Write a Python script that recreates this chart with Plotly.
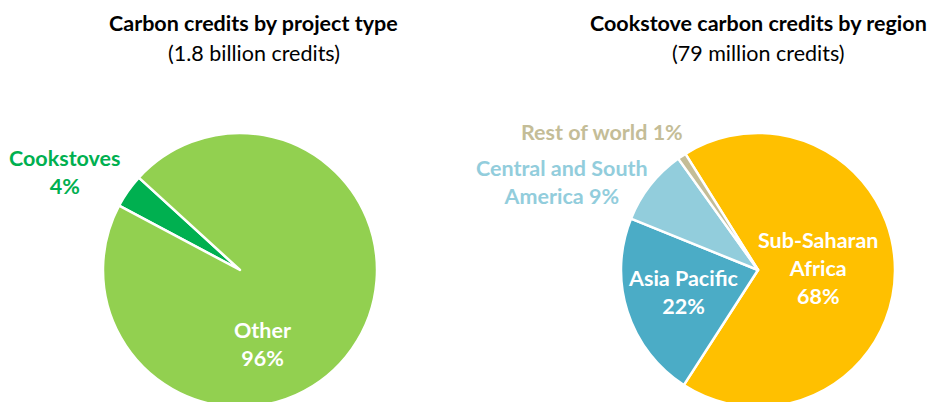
import plotly.graph_objects as go

# Canvas is a little taller than the visible window so both pies run off the bottom edge
W, H = 932, 420

# Left pie: all carbon credits by project type
type_labels = ["Cookstoves", "Other"]
type_values = [4, 96]
type_colors = ["#00B050", "#92D050"]

# Right pie: cookstove credits by region
region_labels = ["Sub-Saharan Africa", "Asia Pacific", "Central and South America", "Rest of world"]
region_values = [68, 22, 9, 1]
region_colors = ["#FFC000", "#4BACC6", "#92CDDC", "#C4BD97"]

FONT = "Lato"
SIZE = 21.5


def px(x, y):
    """Convert pixel coords (origin top-left) to paper coords."""
    return x / W, 1 - y / H


def pie_domain(cx, cy, r):
    return dict(x=[(cx - r) / W, (cx + r) / W], y=[(H - cy - r) / H, (H - cy + r) / H])


fig = go.Figure()

fig.add_trace(go.Pie(
    labels=type_labels, values=type_values, sort=False, direction="clockwise",
    rotation=-62, marker=dict(colors=type_colors, line=dict(color="white", width=2.5)),
    textinfo="none", hoverinfo="label+percent", showlegend=False,
    domain=pie_domain(240, 270, 137),
))

fig.add_trace(go.Pie(
    labels=region_labels, values=region_values, sort=False, direction="clockwise",
    rotation=-32, marker=dict(colors=region_colors, line=dict(color="white", width=2.5)),
    textinfo="none", hoverinfo="label+percent", showlegend=False,
    domain=pie_domain(758, 270, 137),
))

annotations = []


def add_text(text, x, y, color, size=SIZE, bold=True):
    ax, ay = px(x, y)
    if bold:
        text = f"<b>{text}</b>"
    annotations.append(dict(
        text=text, x=ax, y=ay, xref="paper", yref="paper",
        xanchor="center", yanchor="middle", showarrow=False,
        font=dict(family=FONT, size=size, color=color),
    ))


# Titles
add_text("Carbon credits by project type", 253, 23, "#000000")
add_text("(1.8 billion credits)", 254, 53, "#000000", bold=False)
add_text("Cookstove carbon credits by region", 758, 23, "#000000")
add_text("(79 million credits)", 758, 53, "#000000", bold=False)

# Slice labels for the project-type pie
type_display = ["Cookstoves", "Other"]
type_label_pos = [(65, 172), (262, 344)]
type_label_color = [type_colors[0], "#FFFFFF"]
for disp, v, (x, y), c in zip(type_display, type_values, type_label_pos, type_label_color):
    add_text(f"{disp}<br>{v}%", x, y, c)

# Slice labels for the region pie
region_display = ["Sub-Saharan<br>Africa", "Asia Pacific", "Central and South<br>America", "Rest of world"]
region_sep = ["<br>", "<br>", " ", " "]
region_label_pos = [(818, 268), (683, 292), (562, 182), (602, 132)]
region_label_color = ["#FFFFFF", "#FFFFFF", region_colors[2], region_colors[3]]
for disp, sep, v, (x, y), c in zip(region_display, region_sep, region_values,
                                   region_label_pos, region_label_color):
    add_text(f"{disp}{sep}{v}%", x, y, c)

fig.update_layout(
    width=W, height=H,
    margin=dict(l=0, r=0, t=0, b=0),
    paper_bgcolor="white", plot_bgcolor="white",
    annotations=annotations,
    font=dict(family=FONT),
)

fig.write_html(
    "out.html",
    post_script="document.body.style.margin='0';document.body.style.overflow='hidden';",
)
